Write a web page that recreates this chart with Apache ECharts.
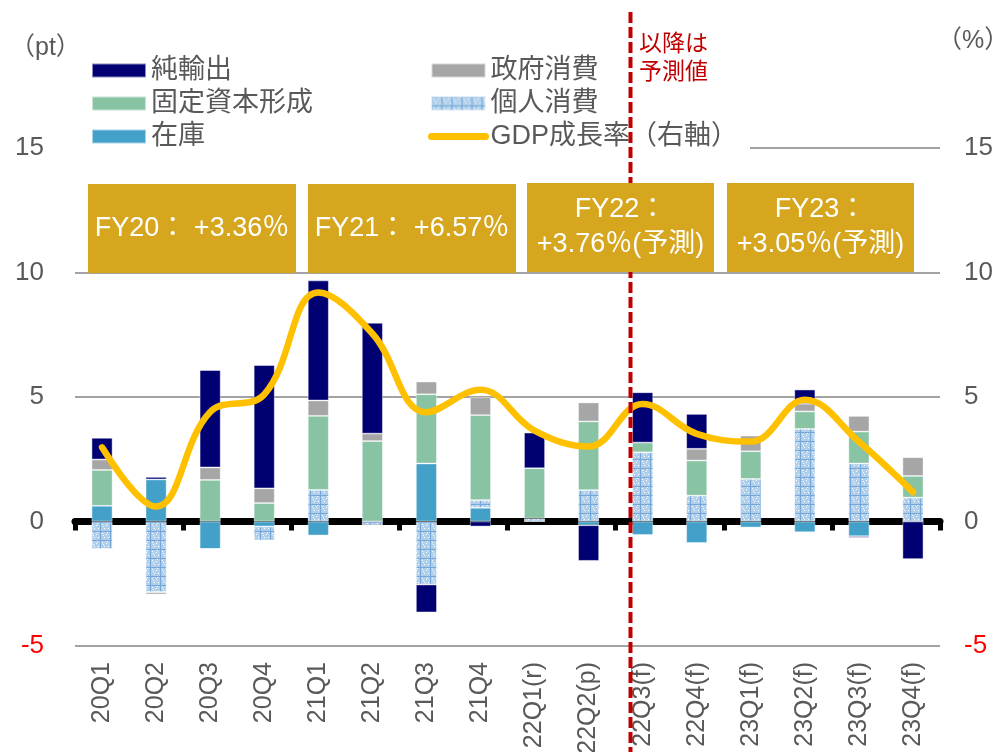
<!DOCTYPE html>
<html>
<head>
<meta charset="utf-8">
<script src="https://cdn.jsdelivr.net/npm/echarts@6/dist/echarts.min.js"></script>
<style>
html, body { margin: 0; padding: 0; background: #fff; }
#chart { width: 997px; height: 752px; }
</style>
</head>
<body>
<div id="chart"></div>
<script>
var quarters = ['20Q1', '20Q2', '20Q3', '20Q4', '21Q1', '21Q2', '21Q3', '21Q4',
    '22Q1(r)', '22Q2(p)', '22Q3(f)', '22Q4(f)', '23Q1(f)', '23Q2(f)', '23Q3(f)', '23Q4(f)'];

// contributions (pt), stacked bottom-up in this order
var inventory = [0.63, 1.69, -1.1, -0.2, -0.56, 0, 2.33, 0.55, 0, -0.15, -0.54, -0.86, -0.24, -0.43, -0.59, 0];
var personal = [-1.1, -2.84, 0, -0.56, 1.27, -0.15, -2.53, 0.31, 0.12, 1.26, 2.78, 1.04, 1.71, 3.72, 2.33, 0.96];
var fixedCapital = [1.44, 0, 1.67, 0.74, 2.97, 3.23, 2.78, 3.41, 2.02, 2.76, 0.39, 1.41, 1.11, 0.7, 1.28, 0.87];
var government = [0.42, -0.09, 0.5, 0.59, 0.62, 0.3, 0.51, 0.72, 0, 0.76, 0, 0.47, 0.63, 0.31, 0.63, 0.75];
var netExports = [0.87, 0.1, 3.91, 4.95, 4.82, 4.45, -1.12, -0.2, 1.43, -1.43, 2.02, 1.4, 0, 0.57, -0.06, -1.51];

// GDP growth (%), right axis
var gdpGrowth = [2.98, 0.6, 4.4, 5.1, 9.2, 7.55, 4.39, 5.29, 3.65, 3.01, 4.72, 3.52, 3.21, 4.89, 3.2, 1.18];

var fyLabels = ['FY20： +3.36％', 'FY21： +6.57％', 'FY22：\n+3.76％(予測)', 'FY23：\n+3.05％(予測)'];

var FONT = "'Liberation Sans', 'Noto Sans CJK JP', sans-serif";
var TXT = '#595959';

function makeHatch() {
    var c = document.createElement('canvas');
    c.width = 10;
    c.height = 9;
    var ctx = c.getContext('2d');
    ctx.fillStyle = '#AFCFEA';
    ctx.fillRect(0, 0, 10, 9);
    ctx.fillStyle = '#ffffff';
    [[2, 2], [6, 3], [4, 6], [8, 6], [3, 4], [7, 1]].forEach(function (p) {
        ctx.fillRect(p[0], p[1], 1, 1);
    });
    ctx.fillStyle = '#76A7D8';
    ctx.fillRect(0, 0, 10, 1);
    ctx.fillRect(0, 0, 1, 9);
    return c;
}

var myChart = echarts.init(document.getElementById('chart'));

function barSeries(name, data, color) {
    return {
        name: name,
        type: 'bar',
        stack: 'total',
        barWidth: 21,
        data: data,
        itemStyle: { color: color, borderColor: 'rgba(255,255,255,0.55)', borderWidth: 0.8 }
    };
}

var boxes = [
    [88, 184, 208, 89],
    [308, 184, 208, 89],
    [527, 183, 187, 89],
    [727, 183, 187, 89]
];

var graphics = [
    // hide gridline 15 behind legend
    { type: 'rect', z: 1, shape: { x: 75, y: 143, width: 675, height: 10 }, style: { fill: '#fff' } },
    { type: 'text', z: 10, left: 10, top: 36, style: { text: '（pt）', font: '25px ' + FONT, fill: TXT } },
    { type: 'text', z: 10, left: 937, top: 29, style: { text: '（%）', font: '25px ' + FONT, fill: TXT } },
    { type: 'text', z: 10, left: 639, top: 31, style: { text: '以降は\n予測値', font: '23px ' + FONT, fill: '#C00000', lineHeight: 28 } },
    {
        type: 'line', z: 6, shape: { x1: 630.5, y1: 12, x2: 630.5, y2: 752 },
        style: { stroke: '#C00000', lineWidth: 4, lineDash: [11, 4] }
    }
];
boxes.forEach(function (b, i) {
    graphics.push({ type: 'rect', z: 10, shape: { x: b[0], y: b[1], width: b[2], height: b[3] }, style: { fill: '#D5A61E' } });
    graphics.push({
        type: 'text', z: 11, x: b[0] + b[2] / 2, y: b[1] + b[3] / 2,
        style: { text: fyLabels[i], font: '27px ' + FONT, fill: '#fff', align: 'center', verticalAlign: 'middle', lineHeight: 35 }
    });
});

var legendText = { fontSize: 27, color: TXT, fontFamily: FONT, lineHeight: 27 };

myChart.setOption({
    animation: false,
    textStyle: { fontFamily: FONT },
    grid: { left: 75, right: 57, top: 148, bottom: 106, containLabel: false, outerBoundsMode: 'none' },
    legend: [
        {
            orient: 'vertical', left: 86, top: 52, itemWidth: 54, itemHeight: 14, itemGap: 6,
            textStyle: legendText,
            data: [{ name: '純輸出', icon: 'rect' }, { name: '固定資本形成', icon: 'rect' }, { name: '在庫', icon: 'rect' }]
        },
        {
            orient: 'vertical', left: 423, top: 52, itemWidth: 54, itemHeight: 14, itemGap: 6,
            textStyle: legendText,
            data: [{ name: '政府消費', icon: 'rect' }, { name: '個人消費', icon: 'rect' },
                {
                    name: 'GDP成長率（右軸）',
                    lineStyle: { color: '#FFC000', width: 7, cap: 'round' },
                    itemStyle: { color: 'rgba(0,0,0,0)', opacity: 0, borderWidth: 0 }
                }]
        }
    ],
    visualMap: {
        show: false, type: 'piecewise', seriesIndex: 5, dimension: 0,
        pieces: [{ gte: 11, lte: 12, color: '#D8A31A' }],
        outOfRange: { color: '#FFC000' }
    },
    xAxis: [
        {
            type: 'category', data: quarters, position: 'bottom',
            axisLine: { show: false, onZero: false }, axisTick: { show: false },
            axisLabel: { rotate: 90, fontSize: 25, color: TXT, margin: 16, fontFamily: FONT }
        },
        {
            type: 'category', data: quarters, position: 'bottom',
            axisLine: { onZero: true, lineStyle: { color: '#000', width: 7 } },
            axisTick: { show: true, length: 9, lineStyle: { color: '#000', width: 5 } },
            axisLabel: { show: false }
        }
    ],
    yAxis: [
        {
            type: 'value', min: -5, max: 15, interval: 5, position: 'left',
            axisLine: { show: false }, axisTick: { show: false },
            splitLine: { lineStyle: { color: '#A3A3A3', width: 2 } },
            axisLabel: {
                fontSize: 26, margin: 31, fontFamily: FONT,
                color: function (v) { return v < 0 ? '#FF0000' : TXT; }
            }
        },
        {
            type: 'value', min: -5, max: 15, interval: 5, position: 'right',
            axisLine: { show: false }, axisTick: { show: false }, splitLine: { show: false },
            axisLabel: {
                fontSize: 26, margin: 24, fontFamily: FONT,
                color: function (v) { return v < 0 ? '#FF0000' : TXT; }
            }
        }
    ],
    series: [
        barSeries('在庫', inventory, '#42A0C9'),
        barSeries('個人消費', personal, { image: makeHatch(), repeat: 'repeat' }),
        barSeries('固定資本形成', fixedCapital, '#88C3A4'),
        barSeries('政府消費', government, '#A6A6A6'),
        barSeries('純輸出', netExports, '#000073'),
        {
            name: 'GDP成長率（右軸）',
            type: 'line',
            yAxisIndex: 1,
            data: gdpGrowth,
            smooth: 0.4,
            symbol: 'none',
            z: 5,
            lineStyle: { width: 6.5, color: '#FFC000', cap: 'round', join: 'round' }
        }
    ],
    graphic: graphics
});
</script>
</body>
</html>
